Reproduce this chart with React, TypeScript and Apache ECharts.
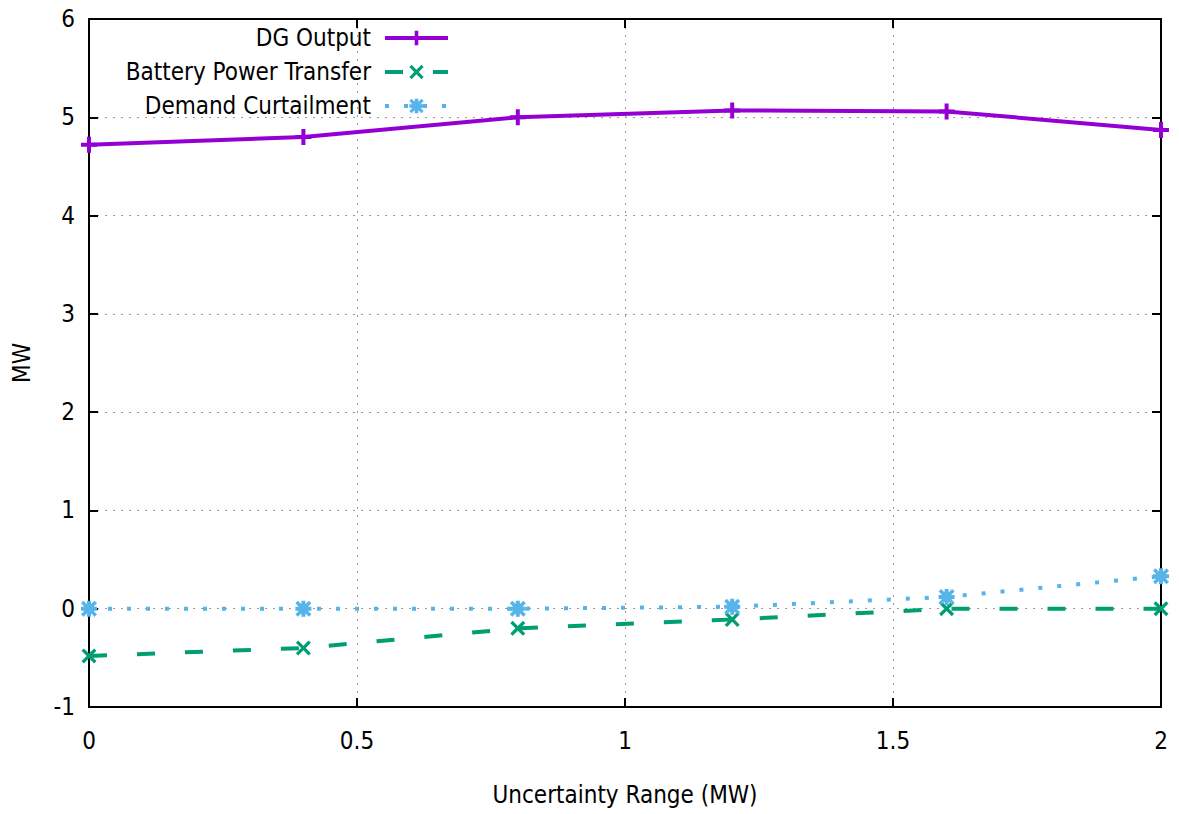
import React, { useEffect, useRef } from "react";
import * as echarts from "echarts";

const xValues = [0, 0.4, 0.8, 1.2, 1.6, 2.0];
const dgOutput = [4.72, 4.8, 5.0, 5.07, 5.06, 4.87];
const batteryTransfer = [-0.48, -0.4, -0.2, -0.11, 0, 0];
const demandCurtailment = [0, 0, 0, 0.02, 0.12, 0.33];
const seriesNames = ["DG Output", "Battery Power Transfer", "Demand Curtailment"];
const seriesColors = ["#9400D3", "#009E73", "#56B4E9"];

const FONT = "'DejaVu Sans Condensed', 'DejaVu Sans', sans-serif";

const PLUS = "path://M6,0 H10 V6 H16 V10 H10 V16 H6 V10 H0 V6 H6 Z";
const CROSS = "path://M0,2.5 L2.5,0 L8,5.5 L13.5,0 L16,2.5 L10.5,8 L16,13.5 L13.5,16 L8,10.5 L2.5,16 L0,13.5 L5.5,8 Z";
const STAR =
  "path://M6,0 H10 V6 H16 V10 H10 V16 H6 V10 H0 V6 H6 Z M0,2.5 L2.5,0 L8,5.5 L13.5,0 L16,2.5 L10.5,8 L16,13.5 L13.5,16 L8,10.5 L2.5,16 L0,13.5 L5.5,8 Z M3,3 H13 V13 H3 Z";

const pairs = (ys: number[]) => xValues.map((x, i) => [x, ys[i]]);

export default function App() {
  const ref = useRef<HTMLDivElement>(null);
  useEffect(() => {
    if (!ref.current) return;
    const chart = echarts.init(ref.current, undefined, { renderer: "svg" });
    const axisLine = { show: true, onZero: false, lineStyle: { color: "#000", width: 2 } };
    const axisTick = { show: true, inside: true, length: 9, lineStyle: { color: "#000", width: 2 } };
    const splitLine = { show: true, lineStyle: { color: "#9a9a9a", width: 1, type: [2, 6] } };
    chart.setOption({
      animation: false,
      backgroundColor: "#fff",
      textStyle: { fontFamily: FONT },
      grid: { left: 89, right: 18, top: 19, bottom: 107, containLabel: false },
      legend: {
        orient: "vertical",
        align: "right",
        right: 729,
        top: 26,
        padding: 0,
        itemGap: 10,
        itemWidth: 63,
        itemHeight: 18,
        lineStyle: { width: 4 },
        textStyle: { fontFamily: FONT, fontSize: 24, color: "#000", lineHeight: 24, padding: [0, 9, 0, 0] },
        data: seriesNames,
      },
      xAxis: [
        {
          type: "value",
          min: 0,
          max: 2,
          interval: 0.5,
          position: "bottom",
          name: "Uncertainty Range (MW)",
          nameLocation: "middle",
          nameGap: 76,
          nameTextStyle: { fontFamily: FONT, fontSize: 24, color: "#000", verticalAlign: "top" },
          axisLine,
          axisTick,
          splitLine,
          axisLabel: { fontFamily: FONT, fontSize: 24, color: "#000", margin: 22 },
        },
        {
          type: "value",
          min: 0,
          max: 2,
          interval: 0.5,
          position: "top",
          axisLine,
          axisTick,
          splitLine: { show: false },
          axisLabel: { show: false },
        },
      ],
      yAxis: [
        {
          type: "value",
          min: -1,
          max: 6,
          interval: 1,
          position: "left",
          name: "MW",
          nameLocation: "middle",
          nameGap: 55,
          nameRotate: 90,
          nameTextStyle: { fontFamily: FONT, fontSize: 24, color: "#000" },
          axisLine,
          axisTick,
          splitLine,
          axisLabel: { fontFamily: FONT, fontSize: 24, color: "#000", margin: 14 },
        },
        {
          type: "value",
          min: -1,
          max: 6,
          interval: 1,
          position: "right",
          axisLine,
          axisTick,
          splitLine: { show: false },
          axisLabel: { show: false },
        },
      ],
      series: [
        {
          name: seriesNames[0],
          type: "line",
          data: pairs(dgOutput),
          symbol: PLUS,
          symbolSize: 16,
          showSymbol: true,
          itemStyle: { color: seriesColors[0] },
          lineStyle: { color: seriesColors[0], width: 4 },
          z: 3,
        },
        {
          name: seriesNames[1],
          type: "line",
          data: pairs(batteryTransfer),
          symbol: CROSS,
          symbolSize: 15,
          showSymbol: true,
          itemStyle: { color: seriesColors[1] },
          lineStyle: { color: seriesColors[1], width: 4, type: [18, 30] },
          z: 4,
        },
        {
          name: seriesNames[2],
          type: "line",
          data: pairs(demandCurtailment),
          symbol: STAR,
          symbolSize: 16,
          showSymbol: true,
          itemStyle: { color: seriesColors[2] },
          lineStyle: { color: seriesColors[2], width: 4, type: [4, 15] },
          z: 5,
        },
      ],
    });
    return () => chart.dispose();
  }, []);
  return (
    <div
      ref={ref}
      style={{ position: "fixed", left: 0, top: 0, width: 1179, height: 814, background: "#fff" }}
    />
  );
}
